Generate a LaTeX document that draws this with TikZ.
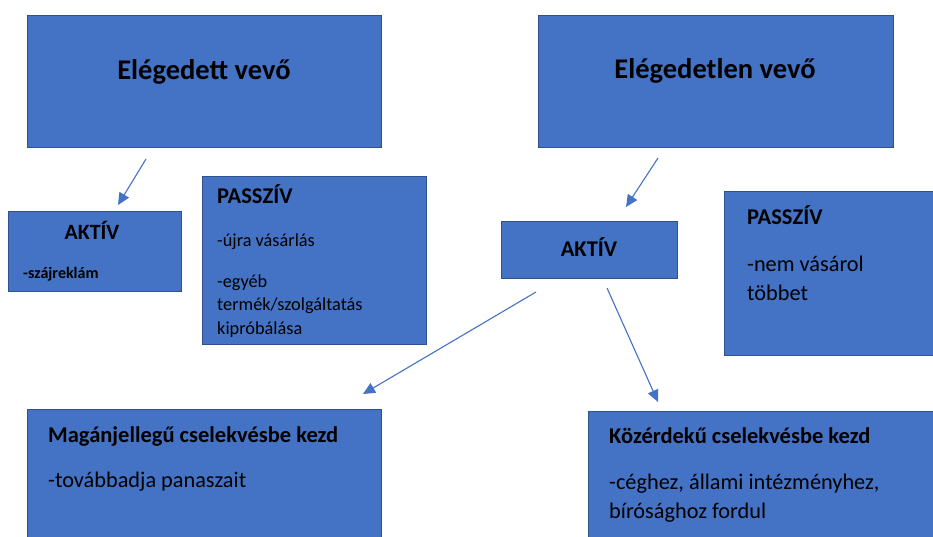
\documentclass[tikz,border=0pt]{standalone}
\usepackage{fontspec}
\setmainfont{Carlito}
\usetikzlibrary{arrows.meta}
\definecolor{boxfill}{HTML}{4472C4}
\definecolor{boxedge}{HTML}{2F528F}
\definecolor{arrowcol}{HTML}{4472C4}
\tikzset{
  boxnode/.style={draw=boxedge, fill=boxfill, line width=0.8pt, rectangle, anchor=north west, inner sep=0pt, outer sep=0pt},
  titletext/.style={font=\fontsize{28.5}{32}\selectfont\bfseries, inner sep=0pt, anchor=base},
  headtext/.style={font=\fontsize{22.5}{26}\selectfont\bfseries, inner sep=0pt},
  smalltext/.style={font=\fontsize{18.3}{22}\selectfont, inner sep=0pt, anchor=base west},
  bodytext/.style={font=\fontsize{22.3}{26}\selectfont, inner sep=0pt, anchor=base west},
  conn/.style={draw=arrowcol, line width=1.1pt, -{Triangle[length=12pt,width=11pt]}}
}
\begin{document}
\begin{tikzpicture}[x=1pt,y=-1pt]
\useasboundingbox (0,0) rectangle (933,537);
\clip (0,0) rectangle (933,537);
\fill[white] (0,0) rectangle (933,537);
% boxes
\node[boxnode, minimum width=354pt, minimum height=132pt] (sat) at (27,15) {};
\node[boxnode, minimum width=355pt, minimum height=132pt] (dis) at (538,15) {};
\node[boxnode, minimum width=173pt, minimum height=80pt] (akt1) at (8,211) {};
\node[boxnode, minimum width=224pt, minimum height=168pt] (pas1) at (202,176) {};
\node[boxnode, minimum width=176pt, minimum height=57pt] (akt2) at (501,221) {};
\node[boxnode, minimum width=220pt, minimum height=164pt] (pas2) at (724,191) {};
\node[boxnode, minimum width=354pt, minimum height=140pt] (priv) at (27,409) {};
\node[boxnode, minimum width=360pt, minimum height=140pt] (pub) at (588,411) {};
% texts
\node[titletext] (t1) at (204,80) {Elégedett vevő};
\node[titletext] (t2) at (715,79) {Elégedetlen vevő};
\node[headtext, font=\fontsize{21.8}{26}\selectfont\bfseries, anchor=base] (a1h) at (92,239) {AKTÍV};
\node[font=\fontsize{16}{19}\selectfont\bfseries, inner sep=0pt, anchor=base west] (a1b) at (23,278) {-szájreklám};
\node[headtext, anchor=base west] (p1h) at (217,204) {PASSZÍV};
\node[smalltext] (p1b1) at (217,247) {-újra vásárlás};
\node[smalltext] (p1b2) at (217,287) {-egyéb};
\node[smalltext] (p1b3) at (217,310) {termék/szolgáltatás};
\node[smalltext] (p1b4) at (217,334) {kipróbálása};
\node[headtext, anchor=base] (a2h) at (589,256) {AKTÍV};
\node[headtext, anchor=base west] (p2h) at (747,225) {PASSZÍV};
\node[bodytext] (p2b1) at (747,271) {-nem vásárol};
\node[bodytext] (p2b2) at (747,300) {többet};
\node[headtext, anchor=base west] (prh) at (48,442) {Magánjellegű cselekvésbe kezd};
\node[bodytext] (prb) at (48,487) {-továbbadja panaszait};
\node[headtext, anchor=base west] (puh) at (609,443) {Közérdekű cselekvésbe kezd};
\node[bodytext] (pub1) at (609,489) {-céghez, állami intézményhez,};
\node[bodytext] (pub2) at (609,518) {bírósághoz fordul};
% connector ends
\coordinate (c1s) at (146,159);
\coordinate (c1e) at (118,205);
\coordinate (c2s) at (658,158);
\coordinate (c2e) at (626,207);
\coordinate (c3s) at (536,292);
\coordinate (c3e) at (363,394);
\coordinate (c4s) at (607,288);
\coordinate (c4e) at (658,402);
\draw[conn] (c1s) -- (c1e);
\draw[conn] (c2s) -- (c2e);
\draw[conn] (c3s) -- (c3e);
\draw[conn] (c4s) -- (c4e);
\end{tikzpicture}
\end{document}
